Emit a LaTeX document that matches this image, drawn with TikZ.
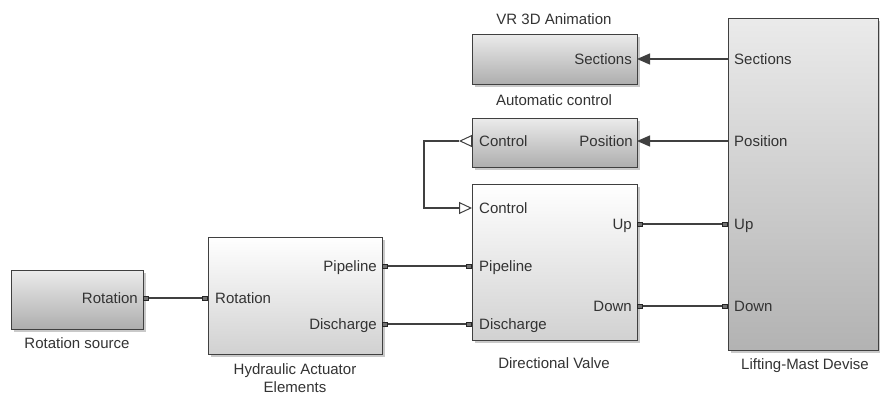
\documentclass[tikz,border=0pt]{standalone}
\usepackage{fontspec}
\setmainfont{Liberation Sans}
\usetikzlibrary{shadows,arrows.meta}
\begin{document}
\begin{tikzpicture}[x=1pt,y=-1pt,
  blk/.style={draw=black!75, line width=1.2pt, rectangle, inner sep=0pt, anchor=north west,
    drop shadow={shadow xshift=2.5pt, shadow yshift=-2.5pt, fill=black!60, opacity=0.35}},
  grayfill/.style={top color=black!8, middle color=black!13, bottom color=black!32},
  whitefill/.style={top color=white, bottom color=black!18},
  mastfill/.style={top color=black!8, bottom color=black!30},
  lbl/.style={font=\fontsize{15}{17}\selectfont, text=black!80, inner sep=0pt},
  captxt/.style={font=\fontsize{15}{17}\selectfont, text=black!80, inner sep=0pt, anchor=base},
  port/.style={draw=black!85, fill=black!55, line width=0.6pt, minimum width=5pt, minimum height=4pt, inner sep=0pt},
  wire/.style={draw=black!75, line width=1.3pt},
  fa/.style={-{Triangle[length=13pt,width=11pt]}},
  oa/.style={-{Triangle[open,length=13pt,width=12pt,line width=1pt]}}
]
\useasboundingbox (0,0) rectangle (880,394);
\clip (0,0) rectangle (880,394);
\fill[white] (0,0) rectangle (880,394);

% blocks
\node[blk, grayfill, minimum width=132pt, minimum height=59pt] (rs) at (11,270) {};
\node[blk, whitefill, minimum width=174pt, minimum height=117pt] (ha) at (208,237) {};
\node[blk, whitefill, minimum width=165pt, minimum height=156pt] (dv) at (472,184) {};
\node[blk, grayfill, minimum width=165pt, minimum height=50pt] (vr) at (472,34) {};
\node[blk, grayfill, minimum width=165pt, minimum height=49pt] (ac) at (472,118) {};
\node[blk, mastfill, minimum width=150pt, minimum height=332pt] (lm) at (728,18) {};

% captions
\node[captxt] (rscap) at (77,348) {Rotation source};
\node[captxt] (hacap1) at (295,374) {Hydraulic Actuator};
\node[captxt] (hacap2) at (295,392) {Elements};
\node[captxt] (dvcap) at (554,368) {Directional Valve};
\node[captxt] (vrcap) at (554,24) {VR 3D Animation};
\node[captxt] (accap) at (554,105) {Automatic control};
\node[captxt] (lmcap) at (805,369) {Lifting-Mast Devise};

% port labels
\node[lbl, anchor=base east] (l1) at (138,303.5) {Rotation};
\node[lbl, anchor=base west] (l2) at (215,303.5) {Rotation};
\node[lbl, anchor=base east] (l3) at (377,271.5) {Pipeline};
\node[lbl, anchor=base east] (l4) at (377,329.5) {Discharge};
\node[lbl, anchor=base west] (l5) at (479,213.5) {Control};
\node[lbl, anchor=base west] (l6) at (479,271.5) {Pipeline};
\node[lbl, anchor=base west] (l7) at (479,329.5) {Discharge};
\node[lbl, anchor=base east] (l8) at (632,229.5) {Up};
\node[lbl, anchor=base east] (l9) at (632,311.5) {Down};
\node[lbl, anchor=base east] (l10) at (632,64.5) {Sections};
\node[lbl, anchor=base east] (l11) at (633,146.5) {Position};
\node[lbl, anchor=base west] (l12) at (479,146.5) {Control};
\node[lbl, anchor=base west] (l13) at (734,64.5) {Sections};
\node[lbl, anchor=base west] (l14) at (734,146.5) {Position};
\node[lbl, anchor=base west] (l15) at (734,229.5) {Up};
\node[lbl, anchor=base west] (l16) at (734,311.5) {Down};

% physical connections
\node[port] (p1) at (146,298) {};
\node[port] (p2) at (205,298) {};
\node[port] (p3) at (385,266) {};
\node[port] (p4) at (469,266) {};
\node[port] (p5) at (385,324) {};
\node[port] (p6) at (469,324) {};
\node[port] (p7) at (640,224) {};
\node[port] (p8) at (725,224) {};
\node[port] (p9) at (640,306) {};
\node[port] (p10) at (725,306) {};
\draw[wire] (p1) -- (p2);
\draw[wire] (p3) -- (p4);
\draw[wire] (p5) -- (p6);
\draw[wire] (p7) -- (p8);
\draw[wire] (p9) -- (p10);

% signal connections
\coordinate (lmS) at (728,59);
\coordinate (vrS) at (637,59);
\coordinate (lmP) at (728,141);
\coordinate (acP) at (637,141);
\draw[wire, fa] (lmS) -- (vrS);
\draw[wire, fa] (lmP) -- (acP);

\coordinate (acC) at (472,141);
\coordinate (acT) at (459,141);
\coordinate (lc) at (424,141);
\coordinate (dvC) at (472,208);
\draw[wire, oa] (acC) -- (acT);
\draw[wire, oa] (acT) -- (lc) |- (dvC);
\end{tikzpicture}
\end{document}
